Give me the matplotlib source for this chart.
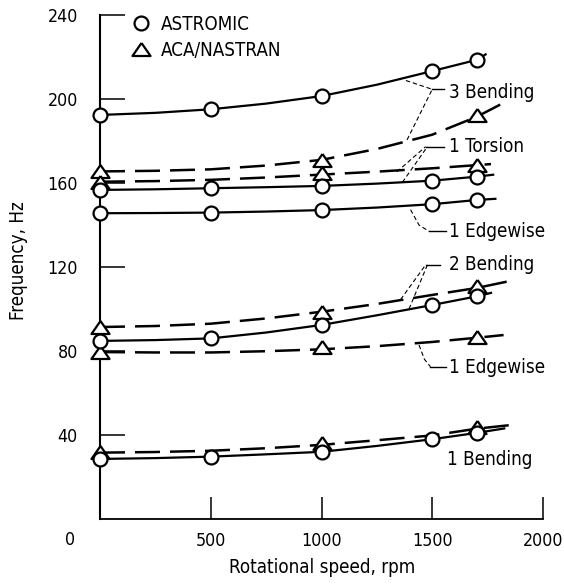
import matplotlib
matplotlib.use('Agg')
import matplotlib.pyplot as plt
from matplotlib import font_manager as fm
from matplotlib.lines import Line2D

# the original lettering is a narrow sans; use a condensed face if one is installed
fsize = 12.0
tsize = 11.5
cond = [f for f in fm.fontManager.ttflist
        if str(f.stretch) in ('condensed', 'semi-condensed', 'extra-condensed')
        and f.style == 'normal' and f.weight in (400, 'normal', 'regular')]
if cond:
    plt.rcParams['font.family'] = [cond[0].name, 'DejaVu Sans']
    plt.rcParams['font.stretch'] = cond[0].stretch
    fsize = 13.5
    tsize = 12.8

# test points
rpm_astromic = [0, 500, 1000, 1500, 1700]
rpm_aca = [0, 1000, 1700]

astromic_3b = [192.4, 195.1, 201.4, 213.3, 218.6]
astromic_1t = [156.7, 157.5, 158.6, 161.1, 163.0]
astromic_1e = [145.6, 145.9, 147.1, 149.9, 151.9]
astromic_2b = [84.8, 86.0, 92.4, 101.9, 106.0]
astromic_1b = [28.6, 29.7, 32.0, 38.0, 41.0]

aca_3b = [165.5, 171.0, 192.4]
aca_1t = [160.6, 164.9, 168.6]
aca_2b = [91.4, 98.7, 111.0]
aca_1e = [79.7, 81.9, 86.5]
aca_1b = [32.0, 36.0, 44.0]

# faired curves (they run a bit past 1700 rpm)
fit_rpm = [0, 250, 500, 750, 1000, 1250, 1500, 1700]
solid_3b = [192.4, 193.4, 195.1, 197.8, 201.4, 206.8, 213.3, 218.6]
solid_1t = [156.7, 157.0, 157.5, 158.0, 158.6, 159.7, 161.1, 163.0]
solid_1e = [145.6, 145.7, 145.9, 146.4, 147.1, 148.3, 149.9, 151.9]
solid_2b = [84.8, 85.2, 86.0, 88.8, 92.4, 97.0, 101.9, 106.0]
solid_1b = [28.6, 29.0, 29.7, 30.8, 32.0, 34.8, 38.0, 41.0]
solid_end_rpm = [1745, 1780, 1790, 1770, 1830]
solid_end_hz = [221.5, 164.0, 152.5, 107.8, 43.2]

dashed_3b = [165.5, 165.8, 166.5, 168.3, 171.0, 176.2, 183.0, 191.5]
dashed_1t = [160.6, 160.9, 161.5, 162.6, 164.0, 165.4, 167.0, 168.5]
dashed_2b = [91.4, 91.9, 93.0, 95.5, 98.7, 102.4, 106.7, 110.0]
dashed_1e = [79.5, 79.3, 79.3, 79.9, 80.8, 82.3, 84.3, 86.3]
dashed_1b = [31.6, 31.9, 32.5, 33.7, 35.3, 37.5, 39.8, 43.0]
dashed_end_rpm = [1810, 1765, 1836, 1822, 1860]
dashed_end_hz = [197.5, 169.0, 113.0, 87.6, 44.8]

mode_labels = ['3 Bending', '1 Torsion', '1 Edgewise', '2 Bending', '1 Edgewise', '1 Bending']

fig = plt.figure(figsize=(5.64, 5.85), dpi=100)
ax = fig.add_axes([0.1773, 0.1128, 0.7855, 0.8616])

tri = [(0, 0.72), (-1, -0.72), (1, -0.72), (0, 0.72)]

solids = [solid_3b, solid_1t, solid_1e, solid_2b, solid_1b]
for i, ys in enumerate(solids):
    ax.plot(fit_rpm + [solid_end_rpm[i]], ys + [solid_end_hz[i]], color='k', lw=1.6,
            solid_capstyle='butt', clip_on=False, zorder=2)

dashes = [dashed_3b, dashed_1t, dashed_2b, dashed_1e, dashed_1b]
for i, ys in enumerate(dashes):
    ax.plot(fit_rpm + [dashed_end_rpm[i]], ys + [dashed_end_hz[i]], color='k', lw=1.8,
            dashes=(10, 4), clip_on=False, zorder=2)

for ys in [astromic_3b, astromic_1t, astromic_1e, astromic_2b, astromic_1b]:
    ax.plot(rpm_astromic, ys, 'o', ms=10, mfc='white', mec='k', mew=1.6,
            clip_on=False, zorder=4)
for ys in [aca_3b, aca_1t, aca_2b, aca_1e, aca_1b]:
    ax.plot(rpm_aca, ys, ls='none', marker=tri, ms=13, mfc='white', mec='k', mew=1.6,
            clip_on=False, zorder=3)

# leader lines to the mode labels
lead = dict(color='k', lw=0.8, dashes=(4, 2.5), zorder=1)
tip = dict(color='k', lw=1.0, zorder=1)
ax.plot([1381, 1500], [208.8, 204.6], **lead)
ax.plot([1386, 1500], [180.5, 204.6], **lead)
ax.plot([1500, 1552], [204.6, 204.6], **tip)
ax.plot([1340, 1470], [165.3, 177.3], **lead)
ax.plot([1365, 1478], [160.3, 177.3], **lead)
ax.plot([1470, 1555], [177.3, 177.3], **tip)
ax.plot([1402, 1440, 1485], [147.3, 140.0, 137.0], **lead)
ax.plot([1485, 1560], [137.0, 137.0], **tip)
ax.plot([1357, 1470], [104.5, 121.0], **lead)
ax.plot([1395, 1478], [100.0, 121.0], **lead)
ax.plot([1470, 1537], [121.0, 121.0], **tip)
ax.plot([1440, 1465, 1492], [82.9, 76.0, 72.5], **lead)
ax.plot([1492, 1560], [72.5, 72.5], **tip)

label_rpm = [1575, 1575, 1575, 1575, 1575, 1566]
label_hz = [203.3, 177.3, 136.8, 121.0, 72.2, 28.4]
for t, x, y in zip(mode_labels, label_rpm, label_hz):
    ax.text(x, y, t, fontsize=fsize, ha='left', va='center', clip_on=False)

ax.set_xlim(0, 2000)
ax.set_ylim(0, 240)
ax.spines['top'].set_visible(False)
ax.spines['right'].set_visible(False)
ax.spines['left'].set_linewidth(1.5)
ax.spines['bottom'].set_linewidth(1.3)

ax.set_xticks([0, 500, 1000, 1500, 2000])
ax.set_xticklabels(['', '500', '1000', '1500', '2000'])
ax.set_yticks([40, 80, 120, 160, 200, 240])
ax.tick_params(axis='y', direction='in', length=18, width=1.1, pad=16, labelsize=tsize)
ax.tick_params(axis='x', direction='in', length=16, width=1.1, pad=9, labelsize=tsize)
ax.text(-133, -0.041, '0', fontsize=tsize, ha='center', va='center',
        transform=ax.get_xaxis_transform(), clip_on=False)

ax.set_xlabel('Rotational speed, rpm', fontsize=fsize)
ax.set_ylabel('Frequency, Hz', fontsize=fsize)
ax.xaxis.set_label_coords(0.501, -0.077)
ax.yaxis.set_label_coords(-0.163, 0.512)

handles = [Line2D([], [], ls='none', marker='o', ms=10, mfc='white', mec='k', mew=1.6),
           Line2D([], [], ls='none', marker=tri, ms=13, mfc='white', mec='k', mew=1.6)]
ax.legend(handles, ['ASTROMIC', 'ACA/NASTRAN'], loc='upper left', bbox_to_anchor=(0.072, 1.0),
          frameon=False, handlelength=1.0, handletextpad=0.55, labelspacing=0.35,
          borderpad=0, borderaxespad=0, fontsize=fsize)

fig.savefig('out.png', dpi=100, facecolor='white')
